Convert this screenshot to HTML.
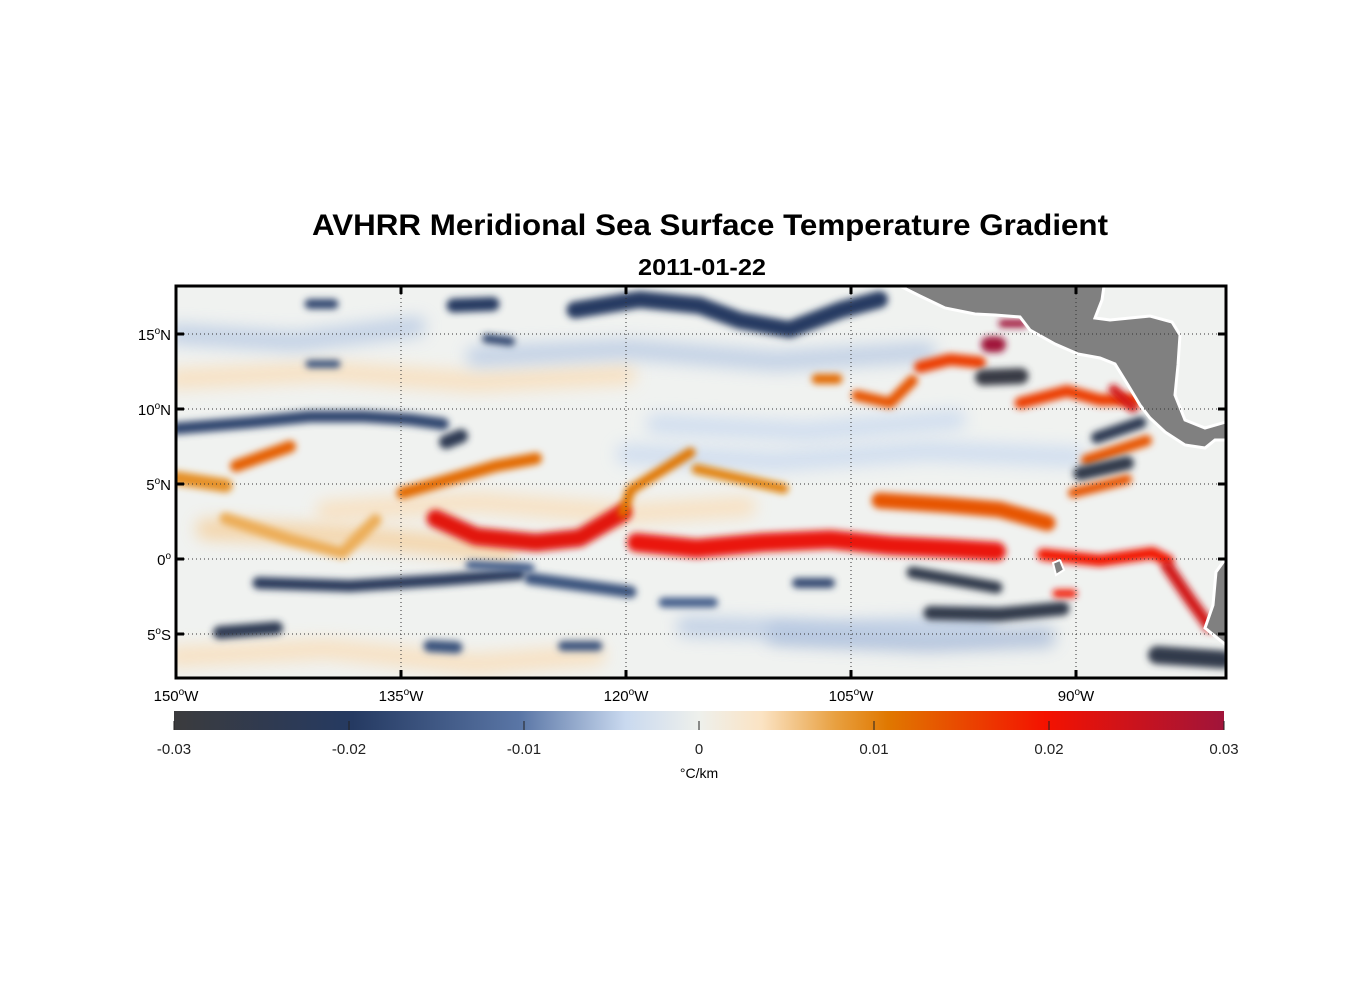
<!DOCTYPE html>
<html><head><meta charset="utf-8"><style>
body{margin:0;background:#fff;width:1356px;height:1000px;overflow:hidden;font-family:"Liberation Sans",sans-serif}
</style></head><body>
<svg id="chart" width="1356" height="1000" xmlns="http://www.w3.org/2000/svg" font-family="Liberation Sans, sans-serif">
<defs>
<filter id="blur" filterUnits="userSpaceOnUse" x="150" y="260" width="1100" height="450"><feGaussianBlur stdDeviation="3.5"/></filter>
<filter id="blur2" filterUnits="userSpaceOnUse" x="150" y="260" width="1100" height="450"><feGaussianBlur stdDeviation="8"/></filter>
<clipPath id="mapclip"><rect x="176" y="286" width="1050" height="392"/></clipPath>
<linearGradient id="cmap" x1="0" x2="1" y1="0" y2="0">
<stop offset="0" stop-color="#3b3b3d"/><stop offset="0.17" stop-color="#253a62"/><stop offset="0.33" stop-color="#5a76a6"/>
<stop offset="0.43" stop-color="#c9d9ef"/><stop offset="0.5" stop-color="#eef0ec"/><stop offset="0.56" stop-color="#fbe3c3"/>
<stop offset="0.63" stop-color="#e8a040"/><stop offset="0.68" stop-color="#e07800"/><stop offset="0.83" stop-color="#f41200"/><stop offset="1" stop-color="#a0143a"/>
</linearGradient>
</defs>
<text x="710" y="235" font-size="30" font-weight="bold" text-anchor="middle" textLength="796" lengthAdjust="spacingAndGlyphs">AVHRR Meridional Sea Surface Temperature Gradient</text>
<text x="702" y="275" font-size="23" font-weight="bold" text-anchor="middle" textLength="128" lengthAdjust="spacingAndGlyphs">2011-01-22</text>
<g id="map" clip-path="url(#mapclip)">
<rect x="176" y="286" width="1050" height="392" fill="#f0f2f0"/>
<g id="fronts"></g>
<polygon points="900,286 920,296 945,308 975,314 995,315 1020,317 1030,330 1055,344 1078,354 1100,358 1115,364 1128,385 1140,405 1150,418 1165,432 1185,445 1205,448 1215,440 1226,440 1226,422 1205,428 1185,420 1175,395 1178,365 1180,335 1172,322 1150,316 1110,320 1095,318 1102,300 1104,286" fill="#808080" stroke="#fff" stroke-width="3"/>
<polygon points="1226,558 1216,572 1213,605 1205,628 1226,645" fill="#808080" stroke="#fff" stroke-width="3"/>
<polygon points="1053,563 1060,560 1064,570 1056,575" fill="#808080" stroke="#fff" stroke-width="2"/>
</g>
<g id="grid"></g>
<rect x="176" y="286" width="1050" height="392" fill="none" stroke="#000" stroke-width="3"/>
<g id="axes"></g>
<rect x="174" y="711" width="1050" height="19" fill="url(#cmap)"/>
<g id="cbticks"></g>
<text x="699" y="778" font-size="14" text-anchor="middle">°C/km</text>
</svg>
<script>
// data
const lonTicks=[150,135,120,105,90];
const latTicks=[15,10,5,0,-5];
const cbTicks=[-0.03,-0.02,-0.01,0,0.01,0.02,0.03];
const cbLabels=["-0.03","-0.02","-0.01","0","0.01","0.02","0.03"];
// fronts: lons (deg W), lats, gradient value, width
const frontLons=[
 [150,145.1,141.1,137.5,134.4,132.2],
 [132,131],
 [146,142.4],
 [150,146.7],
 [134.9,128.7,126],
 [132.7,130,126,123.1,120.2],
 [146.7,142.4,138.9,136.7],
 [144.5,138.4,132.2,127.1],
 [130.4,126.4],
 [147.1,143.3],
 [133.1,131.3],
 [141.1,139.5],
 [131.5,128.9],
 [129.3,127.7],
 [141.1,139.3],
 [123.4,119.1,115.1,112.4,109.1,105.7,103.1],
 [120.2,119.7,115.7],
 [119.3,115.3,110.9,106.4,102.4,98.4,95.3],
 [115.3,109.5],
 [107.3,105.9],
 [104.6,102.4,100.9],
 [126.4,119.7],
 [117.5,114.2],
 [108.6,106.4],
 [124.2,121.9],
 [100.4,98.4,96.4],
 [95.8,95.2],
 [94.9,93.5],
 [96.2,93.7],
 [93.7,90.6,88.4,85.9],
 [87.5,86.2],
 [88.6,85.7],
 [89.3,85.3],
 [89.7,86.6],
 [90.2,86.6],
 [103.1,98.6,95.1,91.9],
 [92.2,88.4,84.9,83.9],
 [83.9,82.4,81.1],
 [100.9,95.3],
 [99.7,95.1,90.9],
 [84.6,80.2],
 [91.3,90.2]
];
const frontLats=[
 [8.7,9.1,9.5,9.5,9.3,9],
 [7.8,8.2],
 [6.2,7.5],
 [5.4,4.9],
 [4.4,6.2,6.7],
 [2.7,1.5,1.1,1.4,3.1],
 [2.7,1.3,0.4,2.6],
 [-1.6,-1.8,-1.4,-1],
 [-0.4,-0.6],
 [-4.9,-4.6],
 [-5.8,-5.9],
 [17,17],
 [16.9,17],
 [14.7,14.5],
 [13,13],
 [16.6,17.3,16.9,15.9,15.3,16.6,17.3],
 [3.1,4.6,7.1],
 [1.1,0.7,1.1,1.3,0.9,0.7,0.5],
 [6,4.7],
 [12,12],
 [10.9,10.4,11.9],
 [-1.3,-2.2],
 [-2.9,-2.9],
 [-1.6,-1.6],
 [-5.8,-5.8],
 [12.8,13.3,13.1],
 [14.3,14.3],
 [15.7,15.7],
 [12.1,12.2],
 [10.4,11.2,10.6,10.6],
 [11.3,10.1],
 [8.1,9.1],
 [6.6,7.9],
 [5.7,6.4],
 [4.4,5.3],
 [3.9,3.6,3.3,2.4],
 [0.3,-0.1,0.4,-0.1],
 [-0.5,-2.7,-4.5],
 [-0.9,-1.9],
 [-3.6,-3.7,-3.3],
 [-6.4,-6.7],
 [-2.3,-2.3]
];
const frontVals=[-0.018,-0.024,0.013,0.009,0.012,0.022,0.007,-0.022,-0.014,-0.024,-0.016,-0.018,-0.02,-0.018,-0.016,-0.02,0.011,0.021,0.01,0.012,0.014,-0.016,-0.014,-0.018,-0.016,0.016,0.03,0.03,-0.028,0.016,0.024,-0.024,0.014,-0.026,0.014,0.014,0.02,0.024,-0.026,-0.026,-0.026,0.02];
const frontWidths=[12,14,12,14,12,18,12,12,9,13,12,10,14,9,8,17,10,19,10,10,11,12,10,10,10,12,16,8,16,12,10,12,11,14,10,16,12,12,12,14,18,8];
// faint background texture
const bgLons=[[150,140,130,120],[120,110,100,90],[148,138,128],[130,120,110,100],[110,100,92],[150,140,130,122],[118,108,98],[140,130,120,112],[150,142,134],[116,106,96]];
const bgLats=[[12,12.5,11.8,12.3],[7,6.5,7.2,6.8],[2,1.5,0.5],[13.5,14,13.2,13.8],[-5,-5.5,-5.2],[-6.5,-6,-7,-6.4],[9,8.5,9.3],[3.2,3.8,3,3.5],[15,14.5,15.5],[-4.5,-4.8,-4.4]];
const bgVals=[0.004,-0.004,0.005,-0.005,-0.006,0.004,-0.004,0.004,-0.005,-0.005];

const NS="http://www.w3.org/2000/svg";
const X=lon=>176+(150-lon)*15;
const Y=lat=>559-lat*15;
const C=v=>699+v/0.03*525;
function color(v){
 const st=[[-0.03,[59,59,61]],[-0.02,[37,58,98]],[-0.01,[90,118,166]],[-0.004,[201,217,239]],[0,[238,240,236]],[0.0036,[251,227,195]],[0.0078,[232,160,64]],[0.0108,[224,120,0]],[0.0198,[244,18,0]],[0.03,[160,20,58]]];
 v=Math.max(-0.03,Math.min(0.03,v));
 for(let i=0;i<st.length-1;i++){if(v<=st[i+1][0]){const t=(v-st[i][0])/(st[i+1][0]-st[i][0]);const a=st[i][1],b=st[i+1][1];return `rgb(${a.map((c,k)=>Math.round(c+(b[k]-c)*t)).join(",")})`;}}
 return "rgb(160,20,58)";
}
function mk(tag,attrs,parent){const e=document.createElementNS(NS,tag);for(const k in attrs)e.setAttribute(k,attrs[k]);parent.appendChild(e);return e;}
const fg=document.getElementById("fronts");
bgLons.forEach((ln,i)=>{
 const p=mk("polyline",{points:ln.map((l,j)=>X(l)+","+Y(bgLats[i][j])).join(" "),fill:"none",stroke:color(bgVals[i]),"stroke-width":20,"stroke-linecap":"round","stroke-linejoin":"round",filter:"url(#blur2)",opacity:0.8},fg);
 
 
});
frontLons.forEach((ln,i)=>{
 const p=mk("polyline",{points:ln.map((l,j)=>X(l)+","+Y(frontLats[i][j])).join(" "),fill:"none",stroke:color(frontVals[i]),"stroke-width":frontWidths[i],"stroke-linecap":"round","stroke-linejoin":"round",filter:"url(#blur)"},fg);
 
 
});
const g=document.getElementById("grid"),ax=document.getElementById("axes"),cb=document.getElementById("cbticks");
lonTicks.forEach(l=>{
 const x=X(l);
 if(l!==150){const gl=mk("line",{x1:x,x2:x,y1:286,y2:678,stroke:"#333","stroke-width":1,"stroke-dasharray":"1,3"},g);
  }
 mk("line",{x1:x,x2:x,y1:286,y2:294,stroke:"#000","stroke-width":3},ax);
 mk("line",{x1:x,x2:x,y1:670,y2:678,stroke:"#000","stroke-width":3},ax);
 const t=mk("text",{x:x,y:701,"font-size":15,"text-anchor":"middle"},ax);
 
 t.innerHTML=l+'<tspan dy="-6" font-size="10">o</tspan><tspan dy="6">W</tspan>';
});
latTicks.forEach(l=>{
 const y=Y(l);
 const gl=mk("line",{x1:176,x2:1226,y1:y,y2:y,stroke:"#333","stroke-width":1,"stroke-dasharray":"1,3"},g);
 
 mk("line",{x1:176,x2:184,y1:y,y2:y,stroke:"#000","stroke-width":3},ax);
 mk("line",{x1:1218,x2:1226,y1:y,y2:y,stroke:"#000","stroke-width":3},ax);
 const t=mk("text",{x:171,y:y+6,"font-size":15,"text-anchor":"end"},ax);
 
 const h=l>0?'N':(l<0?'S':'');
 t.innerHTML=Math.abs(l)+'<tspan dy="-6" font-size="10">o</tspan><tspan dy="6">'+h+'</tspan>';
});
cbTicks.forEach((v,i)=>{
 const x=C(v);
 mk("line",{x1:x,x2:x,y1:721,y2:730,stroke:"#222","stroke-width":1},cb);
 const t=mk("text",{x:x,y:754,"font-size":15,"text-anchor":"middle",fill:"#222"},cb);
 
 t.textContent=cbLabels[i];
});
</script>
</body></html>
